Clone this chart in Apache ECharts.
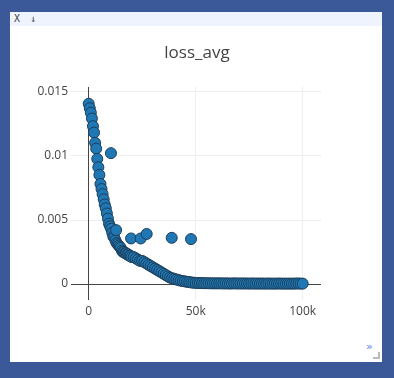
<!DOCTYPE html>
<html>
<head>
<meta charset="utf-8">
<script src="https://cdn.jsdelivr.net/npm/echarts@6/dist/echarts.min.js"></script>
<style>
html,body{margin:0;padding:0;width:394px;height:378px;overflow:hidden;background:#3b5998;}
#panel{position:absolute;left:10px;top:12px;width:372px;height:350px;background:#fff;}
#bar{position:absolute;left:10px;top:12px;width:372px;height:14px;background:#eef3fd;font:10px "DejaVu Sans Mono",monospace;color:#444;line-height:14px;}
#bar span{margin-left:4px;}
#more{position:absolute;left:366px;top:340px;font:11px "DejaVu Sans",sans-serif;color:#5a7fe0;}
#corner{position:absolute;left:373px;top:352px;width:5px;height:5px;border-right:2px solid #bbb;border-bottom:2px solid #bbb;}
#chart{position:absolute;left:0;top:0;width:394px;height:378px;}
</style>
</head>
<body>
<div id="panel"></div>
<div id="bar"><span>X</span> <span>↓</span></div>
<div id="more">»</div>
<div id="corner"></div>
<div id="chart"></div>
<script>
const titleText = "loss_avg";
const steps = [0,500,1000,1500,2000,2500,3000,3500,4000,4500,5000,5500,6000,6500,7000,7500,8000,8500,9000,9500,
  10000,10500,11000,11500,12000,12500,13000,13500,14000,14500,15000,15500,16000,16500,17000,17500,18000,18500,19000,19500,
  20000,21000,22000,23000,24000,25000,26000,27000,28000,29000,30000,31000,32000,33000,34000,35000,36000,37000,38000,39000,
  40000,41000,42000,43000,44000,45000,46000,47000,48000,49000,50000,51000,52000,53000,54000,55000,56000,57000,58000,59000,
  60000,61000,62000,63000,64000,65000,66000,67000,68000,69000,70000,71000,72000,73000,74000,75000,76000,77000,78000,79000,
  80000,81000,82000,83000,84000,85000,86000,87000,88000,89000,90000,91000,92000,93000,94000,95000,96000,97000,98000,99000,100000];
const lossAvg = [0.01405,0.0137,0.01335,0.0129,0.0123,0.0118,0.0110,0.01055,0.00975,0.0091,0.0085,0.0078,0.0074,0.0070,0.0066,0.0062,0.0059,0.0055,0.0051,0.0047,
  0.0045,0.0043,0.0040,0.0037,0.0036,0.0034,0.0032,0.0031,0.0030,0.0029,0.0028,0.0026,0.0025,0.0025,0.0024,0.0024,0.0023,0.0023,0.0022,0.0022,
  0.0021,0.0021,0.0020,0.0019,0.0018,0.0018,0.0017,0.0016,0.0015,0.0014,0.0013,0.0012,0.0011,0.0010,0.0009,0.0008,0.0007,0.0006,0.0005,0.00045,
  0.0004,0.00035,0.0003,0.00026,0.00023,0.0002,0.00017,0.00015,0.00012,0.0001,0.00009,0.00008,0.00007,0.00007,0.00006,0.00006,0.00006,0.00005,0.00005,0.00005,
  0.00005,0.00005,0.00005,0.00004,0.00005,0.00004,0.00004,0.00004,0.00005,0.00004,0.00004,0.00004,0.00004,0.00004,0.00004,0.00003,0.00004,0.00004,0.00003,0.00004,
  0.00003,0.00004,0.00003,0.00003,0.00004,0.00003,0.00003,0.00003,0.00003,0.00004,0.00003,0.00003,0.00003,0.00003,0.00003,0.00003,0.00003,0.00004,0.00004,0.00003,0.00003];
const outlierSteps = [10400,12800,19800,24300,27100,38800,47800];
const outlierLoss = [0.0102,0.0042,0.00355,0.00355,0.0039,0.0036,0.0035];
const xTicks = [0,50000,100000];
const xTickLabels = ["0","50k","100k"];
const yTicks = [0,0.005,0.01,0.015];
const yTickLabels = ["0","0.005","0.01","0.015"];

const points = steps.map((s,i)=>[s,lossAvg[i]]);
outlierSteps.forEach((s,i)=>points.push([s,outlierLoss[i]]));
points.sort((a,b)=>a[0]-b[0]);

const chart = echarts.init(document.getElementById('chart'), null, {renderer:'canvas'});
const font = '"Open Sans", "Liberation Sans", sans-serif';
chart.setOption({
  backgroundColor:'transparent',
  animation:false,
  title:{text:titleText,left:'center',top:40,textStyle:{fontFamily:font,fontSize:17,fontWeight:'normal',color:'#444'}},
  grid:{left:71,top:87,width:250,height:213,containLabel:false},
  xAxis:{type:'value',min:-8270,max:108550,
    axisLine:{show:false,onZero:false},axisTick:{show:false,customValues:xTicks},
    axisLabel:{customValues:xTicks,margin:6,color:'#444',fontFamily:font,fontSize:12,
      formatter:v=>xTickLabels[xTicks.indexOf(v)]},
    splitLine:{show:true,lineStyle:{color:'#eee',width:1}}},
  yAxis:{type:'value',min:-0.001247,max:0.015355,
    axisLine:{show:false,onZero:false},axisTick:{show:false,customValues:yTicks},
    axisLabel:{customValues:yTicks,margin:3,color:'#444',fontFamily:font,fontSize:12,
      formatter:v=>{const i=yTicks.findIndex(t=>Math.abs(t-v)<1e-9);return i>=0?yTickLabels[i]:'';}},
    splitLine:{show:true,lineStyle:{color:'#eee',width:1}}},
  series:[{
    type:'scatter',data:points,symbolSize:11,
    itemStyle:{color:'#1f77b4',borderColor:'#1d3f5c',borderWidth:1,opacity:1},
    markLine:{silent:true,symbol:['none','none'],label:{show:false},
      lineStyle:{color:'#444',width:1,type:'solid'},
      data:[{xAxis:0},{yAxis:0}], z:1},
    z:3
  }]
});
</script>
</body>
</html>
